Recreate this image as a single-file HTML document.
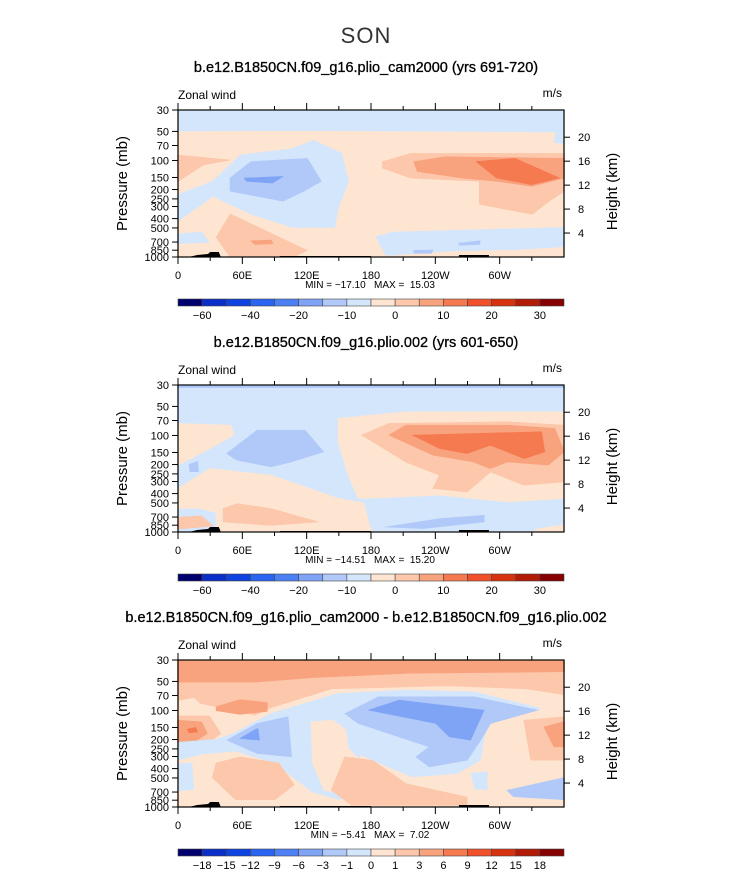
<!DOCTYPE html>
<html><head><meta charset="utf-8"><style>
html,body{margin:0;padding:0;background:#fff;}
svg{display:block;font-family:"Liberation Sans",Arial,sans-serif;}
</style></head><body>
<svg id="fig" width="733" height="888" viewBox="0 0 733 888" xmlns="http://www.w3.org/2000/svg">
<text x="366" y="43" font-size="22" text-anchor="middle" fill="#333" font-weight="300" letter-spacing="1">SON</text>
</svg>
<script>
// ---- data ----
const pressureTicks = [30,50,70,100,150,200,250,300,400,500,700,850,1000];
const heightTicks = [4,8,12,16,20];
const lonTicks = [0,60,120,180,240,300];
const lonLabels = ["0","60E","120E","180","120W","60W"];
const colors = ["#00006e","#0a2fc8","#0d43de","#2a64f2","#4c80f4","#7fa4f6","#b0c9f9","#d4e6fb","#fee5d2","#fcc7ab","#f9a27e","#f57a50","#f1512a","#d7320f","#b11b08","#870000"];
const levelsAbs = [-60,-50,-40,-30,-20,-15,-10,-5,0,5,10,15,20,25,30];
const labelsAbs = ["−60","","−40","","−20","","−10","","0","","10","","20","","30"];
const levelsDiff = [-18,-15,-12,-9,-6,-3,-1,0,1,3,6,9,12,15,18];
const labelsDiff = ["−18","−15","−12","−9","−6","−3","−1","0","1","3","6","9","12","15","18"];
const titles = ["b.e12.B1850CN.f09_g16.plio_cam2000 (yrs 691-720)","b.e12.B1850CN.f09_g16.plio.002 (yrs 601-650)","b.e12.B1850CN.f09_g16.plio_cam2000 - b.e12.B1850CN.f09_g16.plio.002"];
const minmax = [["−17.10","15.03"],["−14.51","15.20"],["−5.41","7.02"]];

const C = {lb:7,mb:6,db:5,pe:8,lo:9,mo:10,do:11};
const field1 = [
 ["pe",[[0,0],[1000,0],[1000,1000],[0,1000]]],
 ["lb",[[0,0],[1000,0],[1000,230],[975,220],[980,150],[700,145],[300,140],[0,143]]],
 ["lb",[[0,575],[91,485],[163,306],[298,262],[352,206],[378,240],[423,295],[441,485],[414,664],[405,799],[298,799],[190,709],[91,586],[0,754]]],
 ["lb",[[0,843],[60,830],[80,900],[0,910]]],
 ["mb",[[136,463],[190,351],[334,329],[370,485],[325,553],[271,620],[136,553]]],
 ["db",[[172,463],[271,452],[244,497],[179,485]]],
 ["lb",[[513,860],[560,830],[692,821],[1000,799],[1000,930],[870,950],[700,960],[540,990]]],
 ["mb",[[728,906],[782,890],[780,915],[730,920]]],
 ["mb",[[612,955],[660,952],[655,975],[612,975]]],
 ["lo",[[531,351],[603,295],[1000,295],[1000,553],[961,620],[917,709],[782,642],[782,485],[603,463],[531,396]]],
 ["mo",[[612,351],[692,318],[1000,329],[1000,463],[917,519],[827,485],[737,463],[621,418]]],
 ["do",[[773,351],[872,329],[988,463],[917,508],[827,463]]],
 ["lo",[[0,306],[136,340],[65,374],[0,485]]],
 ["lo",[[136,709],[226,821],[334,955],[300,1000],[136,1000],[100,866]]],
 ["mo",[[190,890],[240,885],[245,910],[200,915]]]
];
const field2 = [
 ["lb",[[0,0],[1000,0],[1000,1000],[0,1000]]],
 ["mb",[[0,0],[1000,0],[1000,18],[0,18]]],
 ["pe",[[0,261],[136,273],[144,341],[66,455],[0,545]]],
 ["pe",[[416,227],[591,182],[1000,182],[1000,773],[853,795],[678,750],[468,773],[442,614],[416,386]]],
 ["pe",[[0,705],[83,568],[241,614],[416,773],[480,800],[500,1000],[100,1000],[100,870],[60,840],[0,840]]],
 ["pe",[[930,980],[1000,950],[1000,1000],[920,1000]]],
 ["lo",[[477,341],[547,261],[853,250],[1000,273],[1000,659],[897,682],[809,591],[748,727],[661,705],[678,614],[590,523]]],
 ["mo",[[547,341],[591,273],[853,273],[975,295],[1000,455],[958,545],[853,523],[809,568],[766,523],[661,477]]],
 ["do",[[608,341],[941,318],[949,455],[897,500],[809,409],[748,466],[678,432]]],
 ["lo",[[118,841],[153,807],[241,841],[363,932],[241,955],[118,932]]],
 ["lo",[[0,900],[60,890],[90,960],[0,980]]],
 ["mb",[[127,466],[206,307],[328,307],[376,455],[293,523],[241,557],[153,511]]],
 ["mb",[[30,540],[50,520],[52,590],[32,590]]],
 ["mb",[[538,966],[678,909],[792,886],[792,932],[634,977]]]
];
const field3 = [
 ["lo",[[0,0],[1000,0],[1000,1000],[0,1000]]],
 ["mo",[[0,0],[1000,0],[1000,80],[600,90],[350,120],[200,150],[0,150]]],
 ["pe",[[0,290],[60,300],[200,380],[240,330],[400,200],[700,180],[900,200],[1000,240],[1000,1000],[0,1000]]],
 ["pe",[[0,280],[40,260],[70,330],[0,350]]],
 ["lo",[[897,409],[1000,386],[1000,682],[915,682]]],
 ["mo",[[949,455],[1000,420],[1000,591],[975,591]]],
 ["lo",[[0,380],[80,380],[110,500],[60,600],[0,620]]],
 ["mo",[[0,410],[60,420],[75,500],[40,560],[0,560]]],
 ["do",[[25,470],[45,460],[50,490],[30,495]]],
 ["mo",[[100,318],[160,270],[230,290],[230,350],[160,370],[100,345]]],
 ["lb",[[144,500],[241,364],[416,227],[591,205],[766,216],[941,330],[809,409],[792,523],[783,682],[722,773],[608,795],[520,700],[470,640],[460,900],[420,950],[350,900],[300,800],[250,700],[150,620],[60,640],[0,680],[0,560],[100,540]]],
 ["pe",[[346,420],[400,409],[433,470],[440,600],[470,680],[445,900],[380,890],[350,700]]],
 ["lo",[[433,659],[503,682],[590,841],[748,932],[748,989],[451,989],[398,886]]],
 ["lo",[[100,700],[160,660],[260,700],[300,850],[250,950],[150,950],[90,800]]],
 ["mb",[[127,545],[206,432],[284,386],[293,659],[206,636]]],
 ["mb",[[433,364],[520,250],[766,250],[932,341],[809,432],[783,545],[748,682],[652,727],[617,659],[652,591],[573,523],[468,432]]],
 ["db",[[494,341],[573,273],[792,341],[757,545],[704,523],[669,432]]],
 ["db",[[161,534],[206,466],[210,545]]],
 ["lb",[[0,705],[35,700],[40,880],[0,890]]],
 ["mb",[[853,886],[1000,800],[1000,950],[870,930]]],
 ["lb",[[760,770],[800,760],[800,880],[770,880]]]
];
const fields = [field1, field2, field3];

// ---- layout ----
const NS="http://www.w3.org/2000/svg";
const svg=document.getElementById('fig');
const X0=178, W=386, H=147;
const boxTops=[110,385,660];
function el(tag,attrs,parent){const e=document.createElementNS(NS,tag);for(const k in attrs)e.setAttribute(k,attrs[k]);(parent||svg).appendChild(e);return e;}
function yP(top,p){return top+H*Math.log(p/30)/Math.log(1000/30);}
function yZ(top,z){return yP(top,1000*Math.exp(-z/7));}
function xL(lon){return X0+W*lon/360;}

boxTops.forEach((top,pi)=>{
  const g=el('g',{});
  
  
  const t=el('text',{x:366,y:top-38,'font-size':14.5,'text-anchor':'middle',fill:'#000',stroke:'#000','stroke-width':0.3},g);
  t.textContent=titles[pi];
  
  
  const cg=el('g',{transform:`translate(${X0},${top}) scale(${W/1000},${H/1000})`},g);
  
  
  fields[pi].forEach(([c,pts])=>{
    const p=el('polygon',{points:pts.map(q=>q.join(',')).join(' '),fill:colors[C[c]],stroke:colors[C[c]],'stroke-width':4,'stroke-linejoin':'round'},cg);
    
    
  });
  const tr=el('polygon',{points:`${xL(10)},${top+H} ${xL(18)},${top+H-2} ${xL(28)},${top+H-3} ${xL(30)},${top+H-5} ${xL(38)},${top+H-5} ${xL(40)},${top+H}`,fill:'#000'},g);
  
  
  el('rect',{x:xL(95),y:top+H-1,width:xL(180)-xL(95),height:1,fill:'#000'},g);
  el('rect',{x:xL(262),y:top+H-2,width:xL(290)-xL(262),height:2,fill:'#000'},g);
  const frame=el('rect',{x:X0,y:top,width:W,height:H,fill:'none',stroke:'#000','stroke-width':1.2},g);
  
  
  pressureTicks.forEach(p=>{
    const y=yP(top,p);
    el('line',{x1:X0-6,x2:X0,y1:y,y2:y,stroke:'#000'},g);
    const tx=el('text',{x:X0-9,y:y+4,'font-size':11,'text-anchor':'end'},g);
    tx.textContent=p;
    
    
  });
  heightTicks.forEach(z=>{
    const y=yZ(top,z);
    el('line',{x1:X0+W,x2:X0+W+6,y1:y,y2:y,stroke:'#000'},g);
    const tx=el('text',{x:X0+W+14,y:y+4,'font-size':11},g);
    tx.textContent=z;
    
    
  });
  for(let lon=0;lon<360;lon+=30){
    const x=xL(lon), L=lon%60===0?7:4;
    el('line',{x1:x,x2:x,y1:top,y2:top-L,stroke:'#000'},g);
    el('line',{x1:x,x2:x,y1:top+H,y2:top+H+L,stroke:'#000'},g);
  }
  lonTicks.forEach((lon,i)=>{
    const tx=el('text',{x:xL(lon),y:top+H+22,'font-size':11,'text-anchor':'middle'},g);
    tx.textContent=lonLabels[i];
    
    
  });
  const zw=el('text',{x:X0,y:top-11,'font-size':12},g);zw.textContent='Zonal wind';
  
  
  const un=el('text',{x:X0+W-2,y:top-13,'font-size':12,'text-anchor':'end'},g);un.textContent='m/s';
  
  
  const ya=el('text',{x:0,y:0,'font-size':15,'text-anchor':'middle',transform:`translate(127,${top+H/2}) rotate(-90)`},g);ya.textContent='Pressure (mb)';
  
  
  const ya2=el('text',{x:0,y:0,'font-size':15,'text-anchor':'middle',transform:`translate(617,${top+H/2+8}) rotate(-90)`},g);ya2.textContent='Height (km)';
  
  
  const mm=el('text',{x:370,y:top+H+31,'font-size':10,'text-anchor':'middle'},g);
  mm.textContent=`MIN = ${minmax[pi][0]}\u00a0\u00a0\u00a0MAX =\u00a0\u00a0${minmax[pi][1]}`;
  
  
  const cb=el('g',{},g);
  
  
  const cbY=top+H+42, bw=W/colors.length;
  colors.forEach((c,i)=>{
    const r=el('rect',{x:X0+i*bw,y:cbY,width:bw,height:7,fill:c,stroke:'#444','stroke-width':0.6},cb);
    
    
  });
  const labs = pi<2?labelsAbs:labelsDiff;
  labs.forEach((s,i)=>{
    if(!s)return;
    const tx=el('text',{x:X0+(i+1)*bw,y:cbY+20,'font-size':11,'text-anchor':'middle'},cb);
    tx.textContent=s;
    
    
  });
});
</script>
</body></html>
